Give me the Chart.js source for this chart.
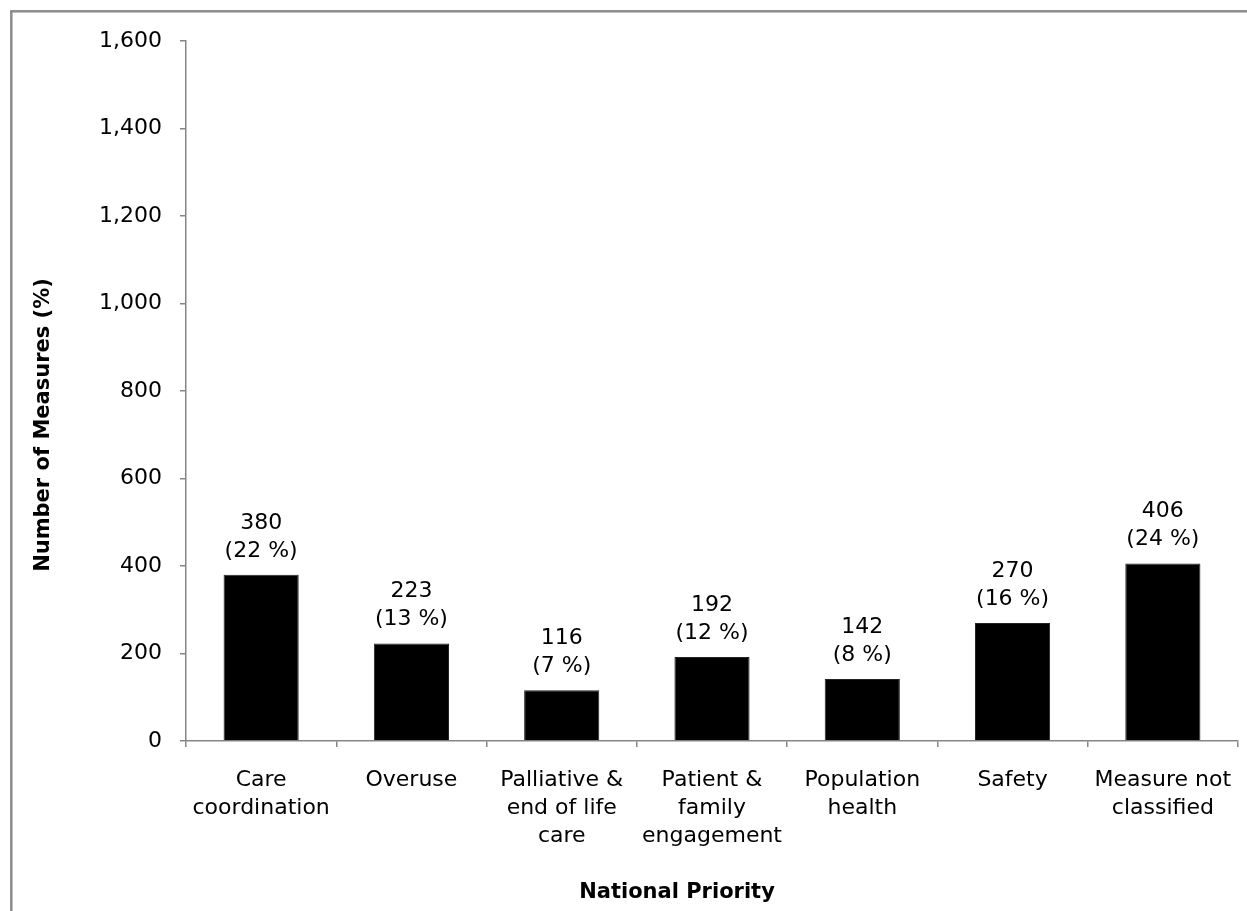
<!DOCTYPE html>
<html>
<head>
<meta charset="utf-8">
<script src="https://cdn.jsdelivr.net/npm/chart.js@4"></script>
<style>
  body { margin: 0; background: #fff; }
  #wrap { position: relative; width: 1247px; height: 911px; }
</style>
</head>
<body>
<div id="wrap"><canvas id="chart" width="1247" height="911"></canvas></div>
<script>
// Datos del gráfico
const categories = [
    ['Care', 'coordination'],
    ['Overuse'],
    ['Palliative &', 'end of life', 'care'],
    ['Patient &', 'family', 'engagement'],
    ['Population', 'health'],
    ['Safety'],
    ['Measure not', 'classified']
];
const measureCounts = [380, 223, 116, 192, 142, 270, 406];
const measurePercents = [22, 13, 7, 12, 8, 16, 24];
const yTicks = [0, 200, 400, 600, 800, 1000, 1200, 1400, 1600];

const axisGray = '#868686';
const fontFamily = '"DejaVu Sans", Verdana, sans-serif';

// Marco gris alrededor del gráfico
const framePlugin = {
    id: 'frame',
    beforeDraw(chart) {
        const ctx = chart.ctx;
        ctx.save();
        ctx.strokeStyle = '#8c8c8c';
        ctx.lineWidth = 2.5;
        ctx.strokeRect(11.3, 11.3, 1400, 1100);
        ctx.restore();
    }
};

// Etiquetas de valor sobre cada barra + títulos de ejes
const labelsPlugin = {
    id: 'barLabels',
    afterDatasetsDraw(chart) {
        const ctx = chart.ctx;
        const meta = chart.getDatasetMeta(0);
        ctx.save();
        ctx.fillStyle = '#000';
        ctx.textAlign = 'center';
        ctx.textBaseline = 'alphabetic';
        ctx.font = '22px ' + fontFamily;
        meta.data.forEach((bar, i) => {
            const lines = [String(measureCounts[i]), '(' + measurePercents[i] + ' %)'];
            const base = bar.y - 18;
            ctx.fillText(lines[1], bar.x, base);
            ctx.fillText(lines[0], bar.x, base - 28);
        });

        ctx.font = 'bold 21px ' + fontFamily;
        ctx.fillText('National Priority', 677, 898);

        ctx.translate(49, 425);
        ctx.rotate(-Math.PI / 2);
        ctx.fillText('Number of Measures (%)', 0, 0);
        ctx.restore();
    }
};

new Chart(document.getElementById('chart').getContext('2d'), {
    type: 'bar',
    data: {
        labels: categories,
        datasets: [{
            data: measureCounts,
            backgroundColor: '#000',
            borderColor: '#222',
            borderWidth: 1,
            barPercentage: 0.5,
            categoryPercentage: 1
        }]
    },
    options: {
        responsive: false,
        animation: false,
        events: [],
        layout: { padding: { top: 41, right: 9, left: 0, bottom: 0 } },
        plugins: {
            legend: { display: false },
            tooltip: { enabled: false }
        },
        scales: {
            x: {
                offset: true,
                afterFit: (s) => {
                    s.height = 170;
                    s.paddingLeft = 0;
                    s.paddingRight = 0;
                },
                grid: {
                    offset: true,
                    drawOnChartArea: false,
                    drawTicks: true,
                    tickLength: 6,
                    color: axisGray,
                    lineWidth: 1.5
                },
                border: { display: true, color: axisGray, width: 1.5 },
                ticks: {
                    color: '#000',
                    padding: 19,
                    maxRotation: 0,
                    autoSkip: false,
                    font: { family: fontFamily, size: 22, lineHeight: 28 / 22 }
                }
            },
            y: {
                min: 0,
                max: 1600,
                afterFit: (s) => {
                    s.width = 186;
                    s.paddingTop = 0;
                    s.paddingBottom = 0;
                },
                afterBuildTicks: (s) => { s.ticks = yTicks.map(v => ({ value: v })); },
                grid: {
                    drawOnChartArea: false,
                    drawTicks: true,
                    tickLength: 6,
                    color: axisGray,
                    lineWidth: 1.5
                },
                border: { display: true, color: axisGray, width: 1.5 },
                ticks: {
                    color: '#000',
                    padding: 18,
                    font: { family: fontFamily, size: 22 },
                    callback: (v) => v.toLocaleString('en-US')
                }
            }
        }
    },
    plugins: [framePlugin, labelsPlugin]
});
</script>
</body>
</html>
